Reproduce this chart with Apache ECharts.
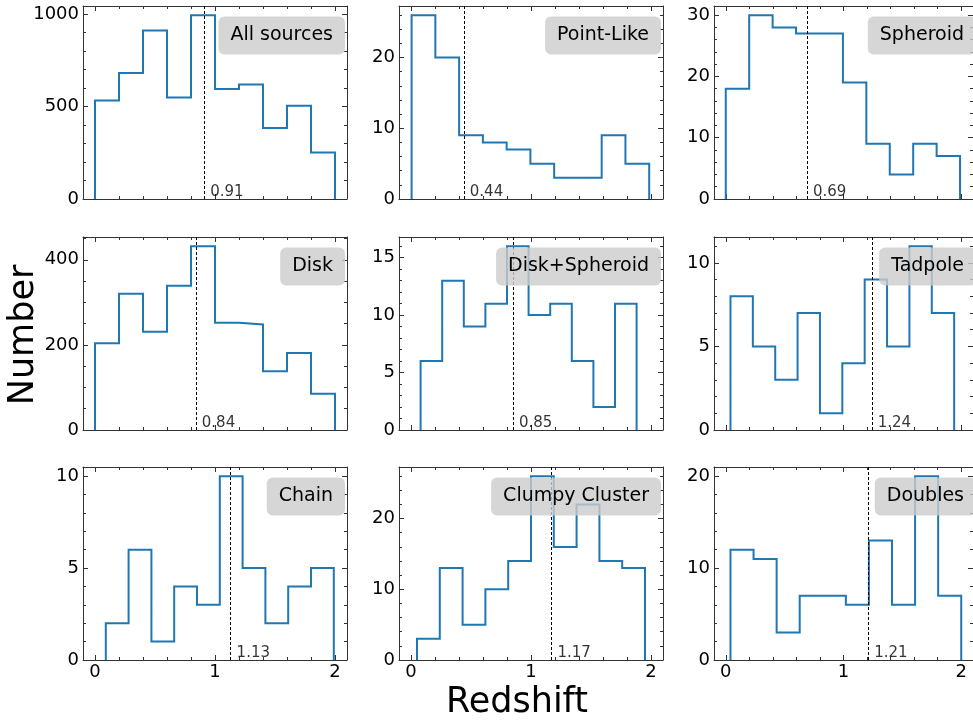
<!DOCTYPE html>
<html>
<head>
<meta charset="utf-8">
<script src="https://cdn.jsdelivr.net/npm/echarts@6/dist/echarts.min.js"></script>
<style>
  html, body { margin: 0; padding: 0; background: #fff; }
  #chart { width: 973px; height: 722px; }
</style>
</head>
<body>
<div id="chart"></div>
<script>
// panel data (10 bins per panel)
var names = ['All sources', 'Point-Like', 'Spheroid', 'Disk', 'Disk+Spheroid', 'Tadpole', 'Chain', 'Clumpy Cluster', 'Doubles'];
var counts = [
  [532, 681, 910, 549, 993, 594, 619, 383, 504, 251],
  [26, 20, 9, 8, 7, 5, 3, 3, 9, 5],
  [18, 30, 28, 27, 27, 19, 9, 4, 9, 7],
  [204, 320, 231, 339, 432, 252, 248, 138, 181, 85],
  [6, 13, 9, 11, 16, 10, 11, 6, 2, 11],
  [8, 5, 3, 7, 1, 4, 9, 5, 11, 7],
  [2, 6, 1, 4, 3, 10, 5, 2, 4, 5],
  [3, 13, 5, 10, 14, 26, 16, 22, 14, 13],
  [12, 11, 3, 7, 7, 6, 13, 6, 20, 7]
];
var binLo = [0.0, 0.005, 0.0, 0.0, 0.08, 0.04, 0.09, 0.05, 0.04];
var binHi = [2.0, 1.985, 1.99, 2.0, 1.88, 1.94, 1.99, 1.95, 2.0];
var medians = [0.91, 0.44, 0.69, 0.84, 0.85, 1.24, 1.13, 1.17, 1.21];
var yMajor = [500, 10, 10, 200, 5, 5, 5, 10, 10];
var yMinor = [100, 2, 2, 50, 1, 1, 1, 2, 2];
var xTicks = [0, 1, 2];
var xMinorStep = 0.2;

var colLeft = [83, 399, 714];
var rowTop = [6, 237, 467];
var plotW = 264, plotH = 193;
var font = 'DejaVu Sans';
var spine = '#333';

function isMult(v, step) {
  var r = v / step;
  return Math.abs(r - Math.round(r)) < 1e-6;
}
function steps(step, max, skip) {
  var out = [];
  for (var k = 0; k * step <= max + 1e-9; k++) {
    var v = +(k * step).toFixed(6);
    if (!skip || !isMult(v, skip)) out.push(v);
  }
  return out;
}
var xMinor = steps(xMinorStep, 2, 1);
var plain = function (v) { return String(v); };

function xAx(i, pos, vals, len, line, label) {
  return {
    type: 'value', gridIndex: i, position: pos, min: -0.1, max: 2.1,
    splitLine: { show: false },
    axisLine: { show: line, onZero: false, lineStyle: { color: spine, width: 1 } },
    axisTick: { show: true, inside: true, length: len, customValues: vals, lineStyle: { color: spine, width: 1 } },
    axisLabel: { show: label, customValues: vals, margin: 3, color: '#000', fontSize: 18, fontFamily: font, formatter: plain }
  };
}
function yAx(i, pos, max, vals, len, line, label) {
  return {
    type: 'value', gridIndex: i, position: pos, min: 0, max: max,
    splitLine: { show: false },
    axisLine: { show: line, onZero: false, lineStyle: { color: spine, width: 1 } },
    axisTick: { show: true, inside: true, length: len, customValues: vals, lineStyle: { color: spine, width: 1 } },
    axisLabel: { show: label, customValues: vals, margin: 4, color: '#000', fontSize: 18, fontFamily: font, formatter: plain }
  };
}

var grids = [], xAxes = [], yAxes = [], series = [], titles = [];

names.forEach(function (name, i) {
  var row = Math.floor(i / 3), col = i % 3;
  var c = counts[i];
  var ymax = Math.max.apply(null, c) * 1.05;
  grids.push({ left: colLeft[col], top: rowTop[row], width: plotW, height: plotH });

  xAxes.push(xAx(i, 'bottom', xTicks, 5, true, row === 2));
  xAxes.push(xAx(i, 'bottom', xMinor, 3, false, false));
  xAxes.push(xAx(i, 'top', xTicks, 5, true, false));
  xAxes.push(xAx(i, 'top', xMinor, 3, false, false));

  var maj = steps(yMajor[i], ymax);
  var mnr = steps(yMinor[i], ymax, yMajor[i]);
  yAxes.push(yAx(i, 'left', ymax, maj, 5, true, true));
  yAxes.push(yAx(i, 'left', ymax, mnr, 3, false, false));
  yAxes.push(yAx(i, 'right', ymax, maj, 5, true, false));
  yAxes.push(yAx(i, 'right', ymax, mnr, 3, false, false));

  // step outline of the histogram
  var w = (binHi[i] - binLo[i]) / c.length;
  var pts = [[binLo[i], 0]];
  c.forEach(function (v, k) {
    pts.push([binLo[i] + k * w, v]);
    pts.push([binLo[i] + (k + 1) * w, v]);
  });
  pts.push([binHi[i], 0]);

  series.push({
    type: 'line', xAxisIndex: 4 * i, yAxisIndex: 4 * i,
    data: pts, showSymbol: false, symbol: 'none', silent: true,
    lineStyle: { color: '#1f77b4', width: 2, join: 'miter' },
    markLine: {
      silent: true, symbol: 'none', animation: false,
      label: { show: false },
      lineStyle: { color: '#000', type: [3, 2], width: 1 },
      data: [{ xAxis: medians[i] }]
    }
  });
  series.push({
    type: 'scatter', xAxisIndex: 4 * i, yAxisIndex: 4 * i,
    data: [[medians[i], 0]], symbolSize: 0, silent: true,
    label: {
      show: true, position: [6, 1], align: 'left', verticalAlign: 'bottom',
      formatter: medians[i].toFixed(2), color: '#000', fontSize: 15, fontFamily: font
    }
  });

  titles.push({
    text: name,
    right: 973 - (colLeft[col] + plotW - 2),
    top: rowTop[row] + 10.5,
    backgroundColor: 'rgba(204,204,204,0.8)',
    borderRadius: 6,
    padding: [9.5, 12],
    textStyle: { fontSize: 19, fontWeight: 'normal', color: '#000', fontFamily: font, lineHeight: 19 }
  });
});

var chart = echarts.init(document.getElementById('chart'));
chart.setOption({
  animation: false,
  backgroundColor: '#fff',
  title: titles,
  grid: grids,
  xAxis: xAxes,
  yAxis: yAxes,
  series: series,
  graphic: [
    { type: 'text', x: 24, y: 335, rotation: Math.PI / 2,
      style: { text: 'Number', fontSize: 35, fontFamily: font, fill: '#000', align: 'center', verticalAlign: 'middle' } },
    { type: 'text', x: 517, y: 703,
      style: { text: 'Redshift', fontSize: 35, fontFamily: font, fill: '#000', align: 'center', verticalAlign: 'middle' } }
  ]
});
</script>
</body>
</html>
